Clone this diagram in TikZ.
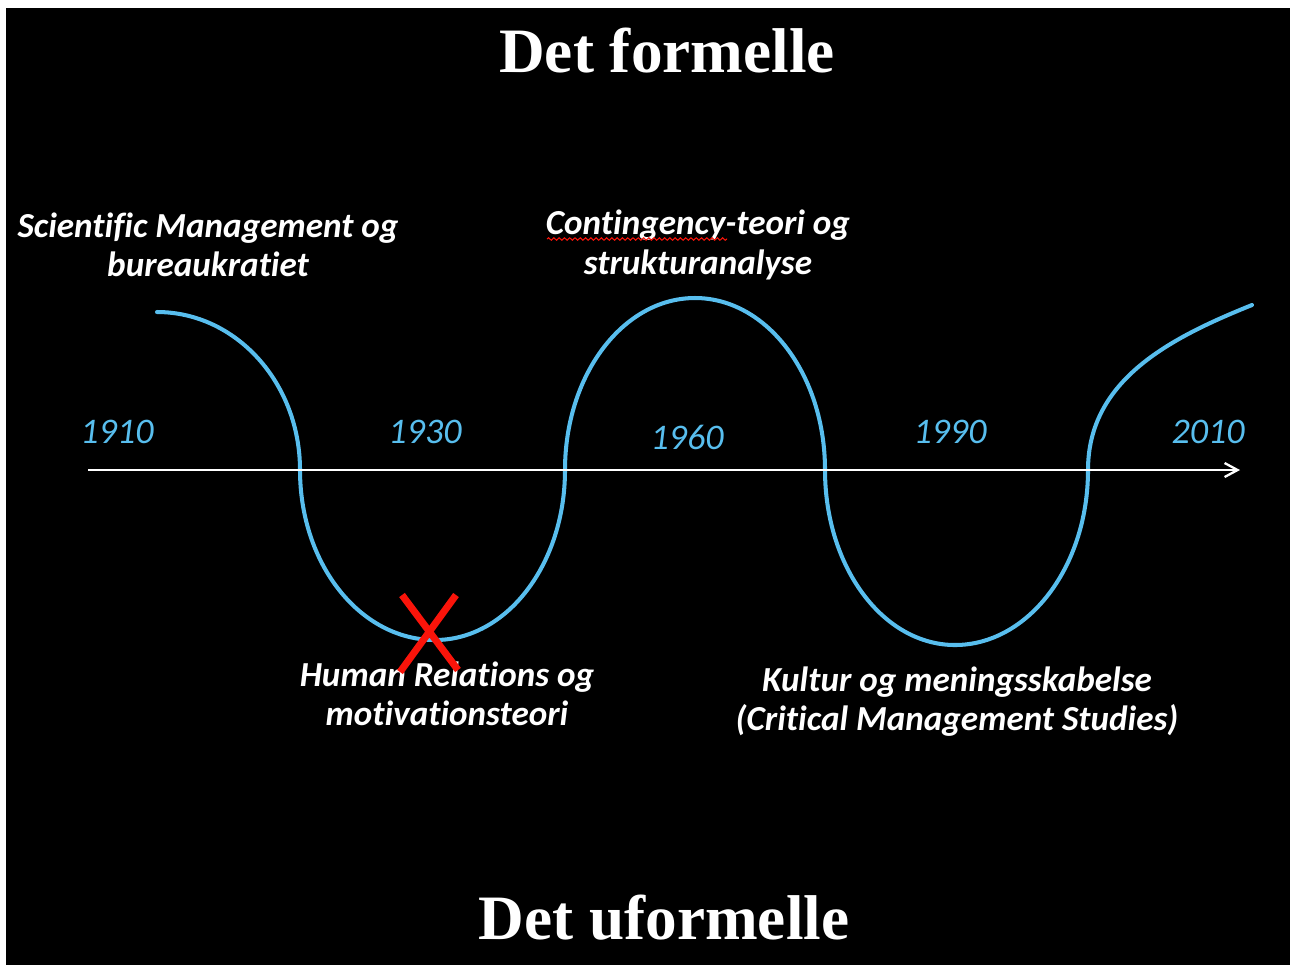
\documentclass[tikz,border=0pt]{standalone}
\usepackage{fontspec}
\setmainfont{Liberation Serif}
\newfontfamily\calib[Ligatures=NoCommon]{Carlito}
\usetikzlibrary{arrows.meta,decorations.pathmorphing}
\definecolor{wavecyan}{RGB}{88,190,238}
\definecolor{xred}{RGB}{250,20,10}

\begin{document}
\begin{tikzpicture}[
  x=0.02cm,y=-0.02cm,
  ttl/.style={font=\fontsize{36}{40}\selectfont\bfseries,text=white,inner sep=0pt},
  lbl/.style={font=\calib\itshape\bfseries\fontsize{20}{22.3}\selectfont,text=white,align=center,inner sep=0pt},
  yr/.style={font=\calib\itshape\fontsize{20.5}{24}\selectfont,text=wavecyan,inner sep=0pt},
  wave/.style={draw=wavecyan,line width=2.3pt,line cap=round},
  arr/.style={-{Straight Barb[length=2.6mm,width=2.8mm]},draw=white,line width=1.3pt},
  kryds/.style={draw=xred,line width=4pt}
]
% slide background
\fill[white,use as bounding box] (0,0) rectangle (1290,965);
\fill[black] (6,8) rectangle (1290,965);

% headings
\node[ttl] (formel) at (667,51) {Det formelle};
\node[ttl] (uformel) at (664,918) {Det uformelle};

% the wave between formal and informal
\coordinate (w0) at (157,312);
\coordinate (w1) at (300,470);
\coordinate (w2) at (435,640);
\coordinate (w3) at (565,470);
\coordinate (w4) at (695,298);
\coordinate (w5) at (825,470);
\coordinate (w6) at (955,645);
\coordinate (w7) at (1088,470);
\coordinate (w8) at (1252,305);
\draw[wave] (w0) .. controls +(79,0) and +(0,-87) .. (w1)
  .. controls +(0,94) and +(-75,0) .. (w2)
  .. controls +(72,0) and +(0,94) .. (w3)
  .. controls +(0,-95) and +(-72,0) .. (w4)
  .. controls +(72,0) and +(0,-95) .. (w5)
  .. controls +(0,97) and +(-72,0) .. (w6)
  .. controls +(73,0) and +(0,97) .. (w7)
  .. controls +(0,-90) and +(-82,33) .. (w8);

% time axis
\coordinate (t0) at (88,470);
\coordinate (t1) at (1240,470);
\draw[arr] (t0) -- (t1);

\node[yr] (y1910) at (117,432) {1910};
\node[yr] (y1930) at (425,432) {1930};
\node[yr] (y1960) at (687,437) {1960};
\node[yr] (y1990) at (950,432) {1990};
\node[yr] (y2010) at (1208,432) {2010};

% schools
\node[lbl] (sci) at (208,245) {Scientific Management og\\bureaukratiet};
\node[lbl] (cont) at (698,245) {Contingency-teori og\\strukturanalyse};
\node[lbl] (hr) at (447,694) {Human Relations og\\motivationsteori};
\node[lbl] (kult) at (957,702) {Kultur og meningsskabelse\\(Critical Management Studies)};

% spelling squiggle
\coordinate (sq0) at (547,239);
\coordinate (sq1) at (727,239);
\draw[xred,line width=0.6pt,decorate,decoration={snake,amplitude=0.7pt,segment length=3pt}] (sq0) -- (sq1);

% cross over human relations
\coordinate (xa) at (402,595);
\coordinate (xb) at (458,670);
\coordinate (xc) at (456,595);
\coordinate (xd) at (400,672);
\draw[kryds] (xa) -- (xb);
\draw[kryds] (xc) -- (xd);
\end{tikzpicture}
\end{document}
